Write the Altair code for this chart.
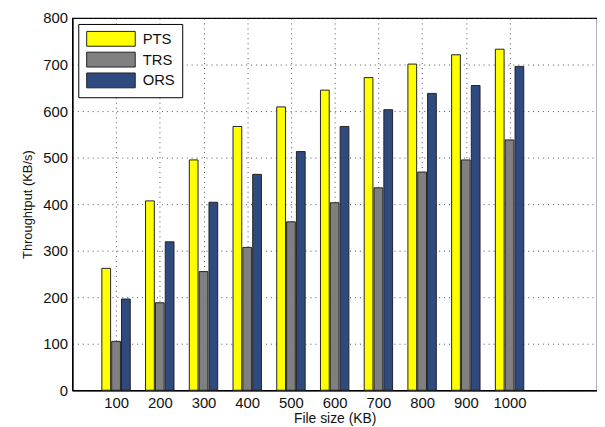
import altair as alt
import pandas as pd

file_sizes = [100, 200, 300, 400, 500, 600, 700, 800, 900, 1000]
series = ["PTS", "TRS", "ORS"]
pts = [262, 407, 495, 567, 609, 645, 672, 701, 721, 733]
trs = [105, 188, 255, 307, 362, 403, 435, 469, 495, 538]
ors = [196, 319, 404, 464, 513, 567, 603, 638, 655, 696]
colors = ["#FFFF00", "#808080", "#2E4A7E"]

rows = []
for i, fs in enumerate(file_sizes):
    for j, (name, vals) in enumerate(zip(series, [pts, trs, ors])):
        rows.append({"idx": i + 1, "size": fs, "series": name, "s": j, "value": vals[i]})
df = pd.DataFrame(rows)

font = "Liberation Sans"

bars = alt.Chart(df).transform_calculate(
    x0="datum.idx + (datum.s - 1) * 0.225 - 0.1",
    x1="datum.idx + (datum.s - 1) * 0.225 + 0.1",
).mark_bar(stroke="#222222", strokeWidth=1).encode(
    x=alt.X("x0:Q", scale=alt.Scale(domain=[0, 12], nice=False, zero=False),
            axis=alt.Axis(values=list(range(1, 11)),
                          labelExpr="datum.value * 100",
                          title="File size (KB)",
                          grid=True, gridDash=[1, 4], gridColor="#222222", gridOpacity=0.8,
                          ticks=False, domain=True, domainColor="black", domainWidth=1.5,
                          labelFont=font, labelFontSize=15, labelColor="#111111", labelPadding=5,
                          titleFont=font, titleFontSize=14, titleFontWeight="normal",
                          titleColor="#111111", titlePadding=2)),
    x2="x1:Q",
    y=alt.Y("value:Q", scale=alt.Scale(domain=[0, 800], nice=False),
            axis=alt.Axis(values=list(range(0, 801, 100)),
                          title="Throughtput (KB/s)",
                          grid=True, gridDash=[1, 4], gridColor="#222222", gridOpacity=0.8,
                          ticks=False, domain=True, domainColor="black", domainWidth=1.5,
                          labelFont=font, labelFontSize=15, labelColor="#111111", labelPadding=5,
                          titleFont=font, titleFontSize=13, titleFontWeight="normal",
                          titleColor="#111111", titlePadding=8)),
    y2=alt.Y2(datum=0),
    color=alt.Color("series:N", sort=series,
                    scale=alt.Scale(domain=series, range=colors),
                    legend=alt.Legend(title=None, orient="none", legendX=6, legendY=6,
                                      symbolType="M-3.27,-1L3.27,-1L3.27,1L-3.27,1Z",
                                      symbolSize=225, symbolOffset=18,
                                      symbolStrokeColor="#222222",
                                      symbolStrokeWidth=1, symbolOpacity=1,
                                      labelFont=font, labelFontSize=15, labelColor="#111111",
                                      rowPadding=1, labelOffset=24,
                                      fillColor="white", strokeColor="black",
                                      padding=7)),
)

chart = bars.properties(
    width=530, height=376,
    autosize=alt.AutoSizeParams(type="none"),
    padding={"left": 65, "top": 8, "right": 0, "bottom": 35},
).configure_view(stroke="black", strokeWidth=1.2)

chart.save("out.html", embed_options={"renderer": "svg", "actions": False})
